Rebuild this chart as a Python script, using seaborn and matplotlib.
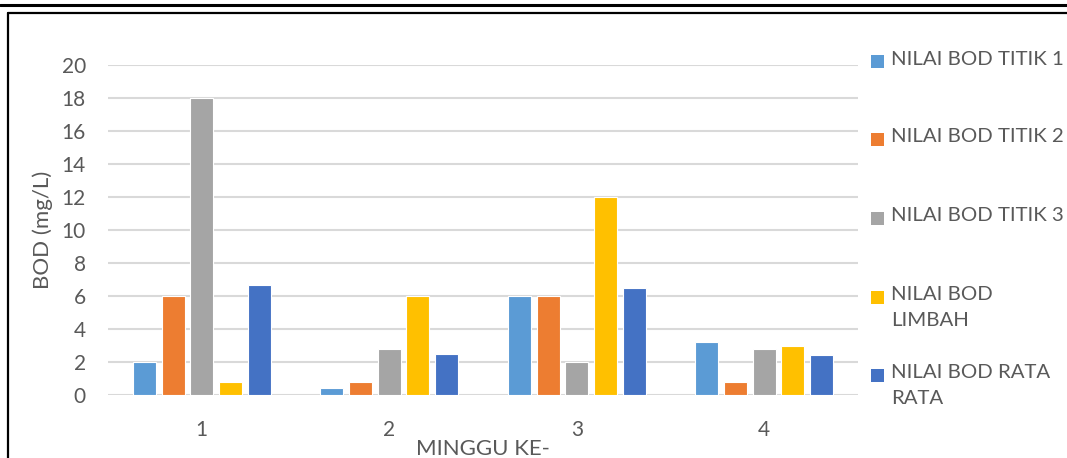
import matplotlib
matplotlib.use("Agg")
import matplotlib.pyplot as plt
from matplotlib.lines import Line2D
from matplotlib.patches import Rectangle
import pandas as pd
import seaborn as sns

# BOD measurements per week (mg/L)
weeks = ["1", "2", "3", "4"]
series_names = [
    "NILAI BOD TITIK 1",
    "NILAI BOD TITIK 2",
    "NILAI BOD TITIK 3",
    "NILAI BOD LIMBAH",
    "NILAI BOD RATA RATA",
]
legend_labels = [
    "NILAI BOD TITIK 1",
    "NILAI BOD TITIK 2",
    "NILAI BOD TITIK 3",
    "NILAI BOD\nLIMBAH",
    "NILAI BOD RATA\nRATA",
]
titik_1 = [2.0, 0.4, 6.0, 3.2]
titik_2 = [6.0, 0.8, 6.0, 0.8]
titik_3 = [18.0, 2.8, 2.0, 2.8]
limbah = [0.8, 6.0, 12.0, 3.0]
rata_rata = [6.7, 2.5, 6.5, 2.45]
y_ticks = [0, 2, 4, 6, 8, 10, 12, 14, 16, 18, 20]

colors = ["#5B9BD5", "#ED7D31", "#A5A5A5", "#FFC000", "#4472C4"]
text_color = "#595959"
grid_color = "#D9D9D9"

rows = []
for name, vals in zip(series_names, [titik_1, titik_2, titik_3, limbah, rata_rata]):
    for w, v in zip(weeks, vals):
        rows.append({"Minggu": w, "Seri": name, "BOD": v})
df = pd.DataFrame(rows)

sns.set_theme(style="white")
plt.rcParams["font.family"] = ["Lato", "DejaVu Sans"]

W, H = 1067, 458
fig = plt.figure(figsize=(W / 100, H / 100), dpi=100)
ax = fig.add_axes([108 / W, 1 - 395 / H, 750 / W, 329.5 / H])

sns.barplot(
    data=df, x="Minggu", y="BOD", hue="Seri", order=weeks,
    hue_order=series_names, palette=colors, saturation=1, width=0.766, gap=0.2,
    edgecolor="white", linewidth=0.8, legend=False, ax=ax,
)

ax.set_xlim(-0.5, 3.5)
ax.set_ylim(0, 20)
ax.set_yticks(y_ticks)
ax.set_yticklabels([str(t) for t in y_ticks])
ax.yaxis.grid(True, color=grid_color, linewidth=1.5)
ax.set_axisbelow(True)
for s in ax.spines.values():
    s.set_visible(False)
ax.tick_params(axis="both", length=0, labelsize=15, colors=text_color)
ax.tick_params(axis="y", pad=16)
ax.tick_params(axis="x", pad=18)
ax.set_xlabel("MINGGU KE-", fontsize=16, color=text_color, labelpad=-1)
ax.set_ylabel("BOD (mg/L)", fontsize=16, color=text_color, labelpad=6)

# Legend on the right
first_line_y = [61.7, 139.5, 218, 297, 375.5]
for lab, col, yy in zip(legend_labels, colors, first_line_y):
    fig.add_artist(Rectangle((871 / W, 1 - (yy + 6.5) / H), 13 / W, 13 / H,
                             transform=fig.transFigure, facecolor=col,
                             edgecolor="none"))
    fig.text(891 / W, 1 - (yy - 11) / H, lab, fontsize=14.7, color=text_color,
             ha="left", va="top", linespacing=1.62)

# Frame lines
fig.add_artist(Line2D([0, 1], [1 - 5 / H, 1 - 5 / H], transform=fig.transFigure,
                      color="black", linewidth=2.2))
fig.add_artist(Line2D([7.5 / W, 1], [1 - 12.5 / H, 1 - 12.5 / H],
                      transform=fig.transFigure, color="black", linewidth=1.6))
fig.add_artist(Line2D([7.5 / W, 7.5 / W], [0, 1 - 12.5 / H],
                      transform=fig.transFigure, color="black", linewidth=1.6))

fig.savefig("out.png", dpi=100)
